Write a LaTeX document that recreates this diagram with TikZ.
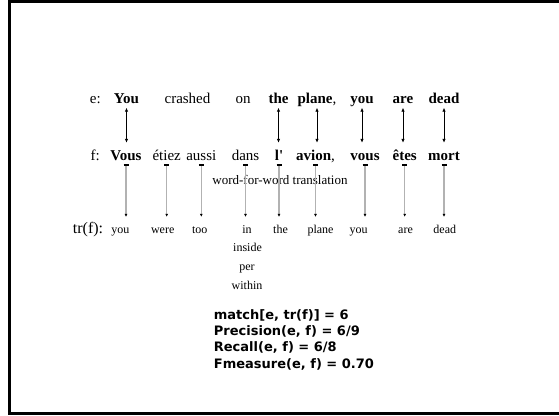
\documentclass[tikz,border=0pt]{standalone}
\usepackage{fontspec}
\setmainfont{Liberation Serif}
\newfontfamily\scorefont{DejaVu Sans}
\usetikzlibrary{arrows.meta}
\tikzset{
  >=Latex,
  x=1pt, y=-1pt,
}
\tikzstyle{every node}=[inner sep=1pt, anchor=base]
\tikzstyle{word}=[font=\fontsize{15}{18}\selectfont, text height=11pt, text depth=3pt]
\tikzstyle{trword}=[font=\fontsize{12}{14}\selectfont, text height=9pt, text depth=3pt]
\tikzstyle{link}=[{Latex[length=4pt,width=3.5pt]}-{Latex[length=4pt,width=3.5pt]}, line width=.8pt, shorten >=5pt]
\tikzstyle{lookup}=[{Bar[width=5pt,line width=1.6pt,black]}-{Latex[length=3pt,width=3pt,black]}, draw=black!30, line width=1.3pt, shorten >=6pt]

\begin{document}
\begin{tikzpicture}
    \useasboundingbox (0,0) rectangle (559,415);
    \draw[line width=2.5pt] (9.5,1.5) rectangle (570,413.3);
    % e sentence
    \node[word] (eLabel) at (95.3,103.5) {e:};
    \node[word] (eYou) at (126.5,103.5) {\textbf{You}};
    \node[word] (eCrashed) at (187.5,103.5) {crashed};
    \node[word] (eOn) at (243,103.5) {on};
    \node[word] (eThe) at (278.5,103.5) {\textbf{the}};
    \node[word] (ePlane) at (317,103.5) {\textbf{plane},};
    \node[word] (eYou2) at (362,103.5) {\textbf{you}};
    \node[word] (eAre) at (403,103.5) {\textbf{are}};
    \node[word] (eDead) at (444,103.5) {\textbf{dead}};
    % f sentence
    \node[word] (fLabel) at (95.3,160) {f:};
    \node[word] (fVous) at (126,160) {\textbf{Vous}};
    \node[word] (fEtiez) at (166.7,160) {étiez};
    \node[word] (fAussi) at (201.3,160) {aussi};
    \node[word] (fDans) at (245.5,160) {dans};
    \node[word] (fL) at (279,160) {\textbf{l\textquotesingle}};
    \node[word] (fAvion) at (315.5,160) {\textbf{avion},};
    \node[word] (fVous2) at (365,160) {\textbf{vous}};
    \node[word] (fEtes) at (404.7,160) {\textbf{êtes}};
    \node[word] (fMort) at (444,160) {\textbf{mort}};
    % translations
    \node[trword,font=\fontsize{16}{18}\selectfont] (trLabel) at (88,233) {tr(f):};
    \node[trword] (tYou) at (120.3,233) {you};
    \node[trword] (tWere) at (162.7,233) {were};
    \node[trword] (tToo) at (199.7,233) {too};
    \node[trword] (tIn) at (247,233) {in};
    \node[trword] (tInside) at (247.5,251.8) {inside};
    \node[trword] (tPer) at (247,270.5) {per};
    \node[trword] (tWithin) at (247,289) {within};
    \node[trword] (tThe) at (280.5,233) {the};
    \node[trword] (tPlane) at (320.5,233) {plane};
    \node[trword] (tYou2) at (358.7,233) {you};
    \node[trword] (tAre) at (405.5,233) {are};
    \node[trword] (tDead) at (444.8,233) {dead};
    \node[font=\fontsize{13}{15}\selectfont] (wfw) at (280,184) {word-for-word translation};
    % alignment links
    \draw[link] (eYou.south) -- (eYou.south |- fVous.north);
    \draw[link] (eThe.south) -- (eThe.south |- fL.north);
    \draw[link] (ePlane.south) -- (ePlane.south |- fAvion.north);
    \draw[link] (eYou2.south) -- (eYou2.south |- fVous2.north);
    \draw[link] (eAre.south) -- (eAre.south |- fEtes.north);
    \draw[link] (eDead.south) -- (eDead.south |- fMort.north);
    % dictionary lookups
    \draw[lookup] (fVous.south) -- (fVous.south |- tYou.north);
    \draw[lookup] (fEtiez.south) -- (fEtiez.south |- tWere.north);
    \draw[lookup] (fAussi.south) -- (fAussi.south |- tToo.north);
    \draw[lookup] (fDans.south) -- (fDans.south |- tIn.north);
    \draw[lookup] (fL.south) -- (fL.south |- tThe.north);
    \draw[lookup] (fAvion.south) -- (fAvion.south |- tPlane.north);
    \draw[lookup] (fVous2.south) -- (fVous2.south |- tYou2.north);
    \draw[lookup] (fEtes.south) -- (fEtes.south |- tAre.north);
    \draw[lookup] (fMort.south) -- (fMort.south |- tDead.north);
    % scores
    \node[font=\scorefont\bfseries\fontsize{13}{16.3}\selectfont, align=left, anchor=base west] (scores) at (212.7,368)
      {match[e, tr(f)] = 6\\Precision(e, f) = 6/9\\Recall(e, f) = 6/8\\Fmeasure(e, f) = 0.70};
\end{tikzpicture}
\end{document}
